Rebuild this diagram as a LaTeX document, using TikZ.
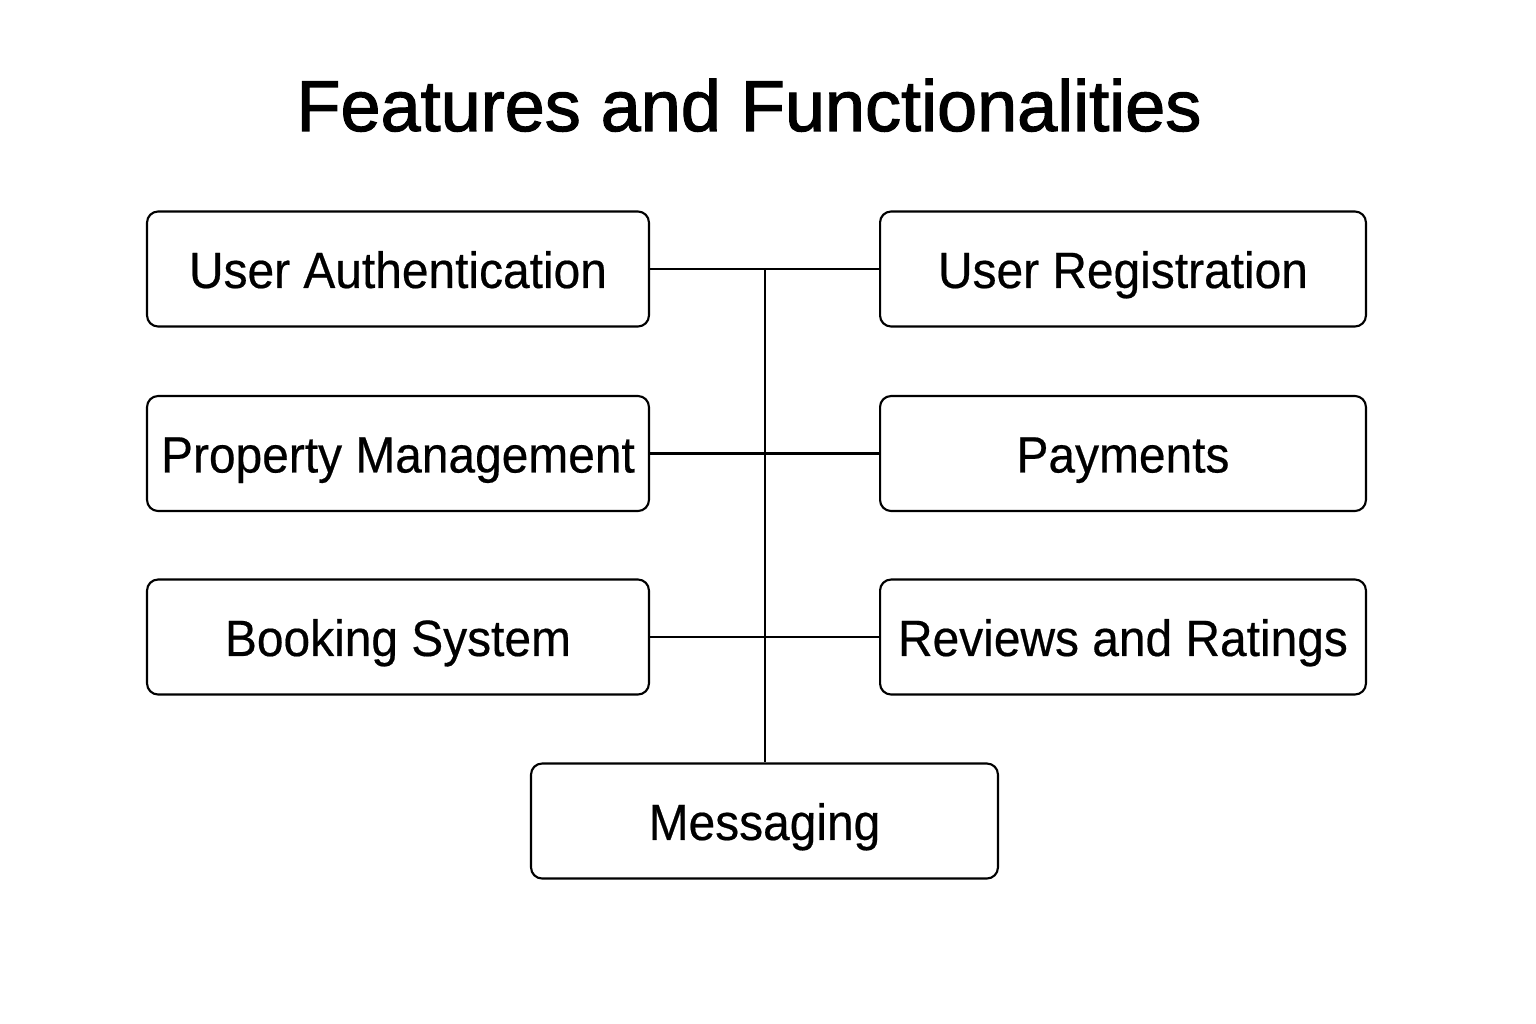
\documentclass[tikz,border=0pt]{standalone}
\usepackage{fontspec}
\setmainfont{Liberation Sans}
\newfontfamily\titlefont[FakeBold=1.6]{Liberation Sans}
\newfontfamily\boxfont[FakeStretch=0.94,FakeBold=0.4]{Liberation Sans}
\begin{document}
\begin{tikzpicture}[x=0.02cm,y=-0.02cm,
  box/.style={draw=black,line width=1.2pt,rounded corners=0.22cm,minimum height=2.3cm,inner sep=0pt,
    text height=21.6pt,text depth=0pt,font=\boxfont\fontsize{29}{33}\selectfont,fill=white},
  wide/.style={minimum width=10.04cm},
  narrow/.style={minimum width=9.72cm},
  link/.style={draw=black,line width=1.2pt}]
\useasboundingbox (0,0) rectangle (1536,1024);
\fill[white] (0,0) rectangle (1536,1024);
\node[font=\titlefont\fontsize{41}{48}\selectfont,anchor=base] (title) at (749,131) {Features and Functionalities};
\coordinate (top) at (765,270);
\node[box,wide] (ua) at (398,269) {User Authentication};
\node[box,narrow] (ur) at (1123,269) {User Registration};
\node[box,wide] (pm) at (398,453.5) {Property Management};
\node[box,narrow] (pay) at (1123,453.5) {Payments};
\node[box,wide] (bs) at (398,637) {Booking System};
\node[box,narrow] (rr) at (1123,637) {Reviews and Ratings};
\node[box,minimum width=9.34cm] (msg) at (764.5,821) {Messaging};
\draw[link] (ua.east) -- (ur.west);
\draw[link] (pm.east) -- (pay.west);
\draw[link] (bs.east) -- (rr.west);
\draw[link] (top) -- (top |- msg.north);
\end{tikzpicture}
\end{document}
